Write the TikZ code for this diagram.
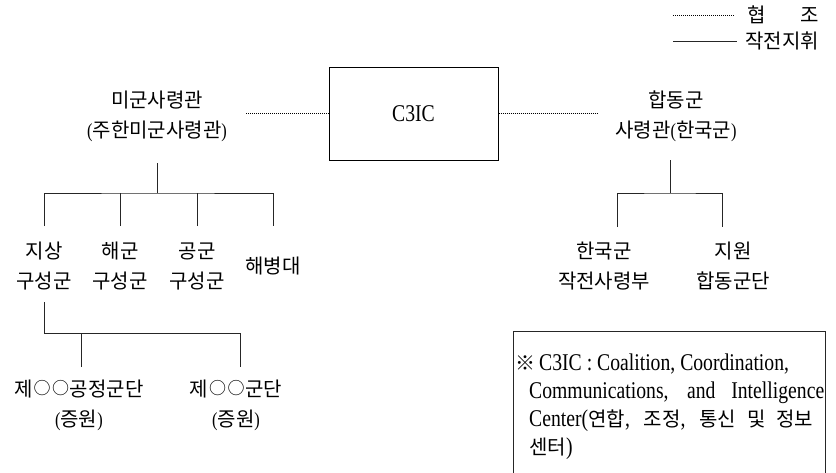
\documentclass[tikz,border=0pt]{standalone}
\usepackage{fontspec}
\setmainfont{Liberation Serif}[FakeStretch=0.82]
\newfontfamily\kr{Noto Sans CJK KR}
\newcommand\kpo{{\rmfamily(}}
\newcommand\kpc{{\rmfamily)}}
\newcommand\hg[1]{{\kr\fontsize{20}{28}\selectfont #1}}
\newcommand\smcirc{\kern0.8pt\raisebox{1.2pt}{\fontsize{17}{17}\selectfont ○}\kern0.8pt}
\begin{document}
\begin{tikzpicture}[x=1pt,y=-1pt,
  lbl/.style={font=\kr\fontsize{20}{30}\selectfont, align=center, inner sep=0pt},
  ln/.style={line width=0.8pt, draw=black!85},
  dotln/.style={line width=1pt, draw=black, dash pattern=on 1pt off 1pt},
  notel/.style={font=\fontsize{24}{28}\selectfont, anchor=base west, inner sep=0pt}]
\useasboundingbox (0,0) rectangle (836,472);
% legend
\coordinate (lg1a) at (673,15); \coordinate (lg1b) at (735,15);
\coordinate (lg2a) at (673,41); \coordinate (lg2b) at (737,41);
\draw[dotln] (lg1a) -- (lg1b);
\draw[ln] (lg2a) -- (lg2b);
\node[lbl] (lgh) at (757,15) {협};
\node[lbl] (lgj) at (810,15) {조};
\node[lbl, anchor=west] (lgc) at (745,41) {작전지휘};
% top level
\node[lbl] (usa) at (157,116.5) {미군사령관\\\kpo 주한미군사령관\kpc};
\node[draw, line width=1pt, minimum width=169pt, minimum height=93pt, inner sep=0pt, font=\fontsize{24}{28}\selectfont] (c3ic) at (413.5,113.5) {C3IC};
\node[lbl] (cfc) at (676,116.5) {합동군\\사령관\kpo 한국군\kpc};
\coordinate (dl) at (246,113.5); \coordinate (dr) at (597,113.5);
\draw[dotln] (dl) -- (c3ic.west);
\draw[dotln] (c3ic.east) -- (dr);
% left tree
\node[lbl] (gnd) at (44,266) {지상\\구성군};
\node[lbl] (nav) at (120,266) {해군\\구성군};
\node[lbl] (air) at (197,266) {공군\\구성군};
\node[lbl] (mar) at (273,266) {해병대};
\coordinate (usaB) at (157,163); \coordinate (jU) at (157,193);
\coordinate (t1) at (44,226); \coordinate (t2) at (120,226);
\coordinate (t3) at (197,226); \coordinate (t4) at (273,226);
\draw[ln] (usaB) -- (jU);
\draw[ln] (t1) |- (jU) -| (t4);
\draw[ln] (t2) -- (t2 |- jU);
\draw[ln] (t3) -- (t3 |- jU);
% level 3
\node[lbl] (abn) at (79,405) {제\smcirc\smcirc 공정군단\\\kpo 증원\kpc};
\node[lbl] (crp) at (236,405) {제\smcirc\smcirc 군단\\\kpo 증원\kpc};
\coordinate (gB) at (44,302); \coordinate (jG) at (44,333);
\coordinate (a1) at (81,367); \coordinate (a2) at (240,367);
\draw[ln] (gB) -- (jG) -| (a2);
\draw[ln] (a1) -- (a1 |- jG);
% right tree
\node[lbl] (rok) at (604,266) {한국군\\작전사령부};
\node[lbl] (sup) at (733,266) {지원\\합동군단};
\coordinate (cfcB) at (670,160); \coordinate (jC) at (670,193);
\coordinate (r1) at (617,227); \coordinate (r2) at (722,227);
\draw[ln] (cfcB) -- (jC);
\draw[ln] (r1) |- (jC) -| (r2);
% note box
\coordinate (nb1) at (513,331); \coordinate (nb2) at (825,480);
\draw[ln] (nb1) rectangle (nb2);
\node[notel] (n1) at (515,370) {\hg{※}\,C3IC : Coalition, Coordination,};
\node[notel] (n2) at (529,398) {\makebox[295pt][s]{Communications, and Intelligence}};
\node[notel] (n3) at (529,426) {\makebox[284pt][s]{Center(\hg{연합}, \hg{조정}, \hg{통신 및 정보}}};
\node[notel] (n4) at (529,454) {\hg{센터})};
\end{tikzpicture}
\end{document}
